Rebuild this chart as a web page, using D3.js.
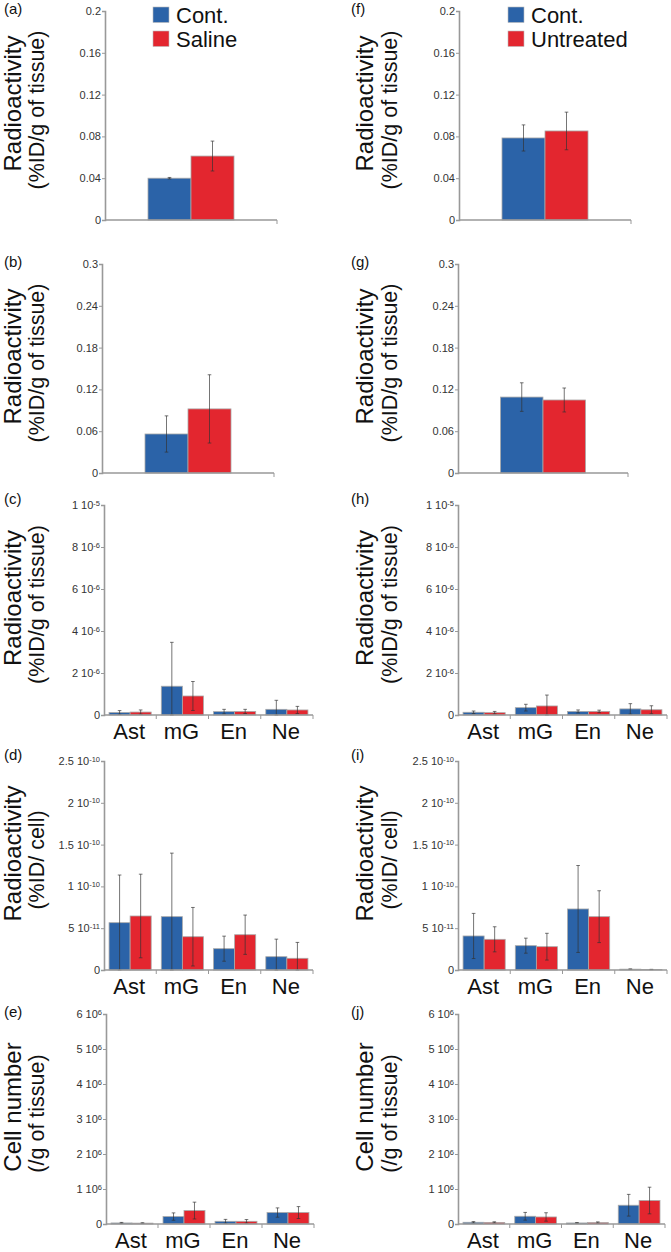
<!DOCTYPE html>
<html><head><meta charset="utf-8">
<script src="https://cdn.jsdelivr.net/npm/d3@7"></script>
<style>body{margin:0;background:#fff} text{font-family:"Liberation Sans",Arial,sans-serif}</style>
</head><body><svg id="c" width="671" height="1252"></svg>
<script>
// ---------- data ----------
const seriesLeft = ["Cont.", "Saline"];
const seriesRight = ["Cont.", "Untreated"];
const cellTypes = ["Ast", "mG", "En", "Ne"];
const singleGroup = [""];

// (a) / (f)
const aCont = [0.040], aContErr = [0.0007], aSaline = [0.0612], aSalineErr = [0.0143];
const fCont = [0.0785], fContErr = [0.0125], fUntreated = [0.0852], fUntreatedErr = [0.018];
// (b) / (g)
const bCont = [0.056], bContErr = [0.026], bSaline = [0.092], bSalineErr = [0.049];
const gCont = [0.109], gContErr = [0.0205], gUntreated = [0.1048], gUntreatedErr = [0.0172];
// (c) / (h)
const cCont = [0.12e-6, 1.37e-6, 0.16e-6, 0.27e-6], cContErr = [0.09e-6, 2.09e-6, 0.11e-6, 0.43e-6];
const cSaline = [0.14e-6, 0.905e-6, 0.17e-6, 0.24e-6], cSalineErr = [0.10e-6, 0.69e-6, 0.10e-6, 0.17e-6];
const hCont = [0.13e-6, 0.35e-6, 0.17e-6, 0.29e-6], hContErr = [0.06e-6, 0.16e-6, 0.07e-6, 0.25e-6];
const hUntreated = [0.11e-6, 0.43e-6, 0.17e-6, 0.25e-6], hUntreatedErr = [0.06e-6, 0.52e-6, 0.06e-6, 0.19e-6];
// (d) / (i)
const dCont = [5.66e-11, 6.38e-11, 2.55e-11, 1.59e-11], dContErr = [5.7e-11, 7.6e-11, 1.5e-11, 2.1e-11];
const dSaline = [6.46e-11, 3.98e-11, 4.22e-11, 1.40e-11], dSalineErr = [5.0e-11, 3.5e-11, 2.35e-11, 1.9e-11];
const iCont = [4.07e-11, 2.91e-11, 7.30e-11, 0.10e-11], iContErr = [2.7e-11, 0.9e-11, 5.2e-11, 0.03e-11];
const iUntreated = [3.67e-11, 2.79e-11, 6.38e-11, 0.06e-11], iUntreatedErr = [1.5e-11, 1.6e-11, 3.1e-11, 0.02e-11];
// (e) / (j)
const eCont = [0.030e6, 0.212e6, 0.077e6, 0.327e6], eContErr = [0.015e6, 0.105e6, 0.055e6, 0.133e6];
const eSaline = [0.025e6, 0.384e6, 0.077e6, 0.327e6], eSalineErr = [0.012e6, 0.24e6, 0.05e6, 0.17e6];
const jCont = [0.049e6, 0.221e6, 0.030e6, 0.536e6], jContErr = [0.02e6, 0.11e6, 0.012e6, 0.31e6];
const jUntreated = [0.045e6, 0.201e6, 0.040e6, 0.671e6], jUntreatedErr = [0.018e6, 0.12e6, 0.02e6, 0.38e6];

// tick values
const ticksAF = [0, 0.04, 0.08, 0.12, 0.16, 0.2];
const ticksBG = [0, 0.06, 0.12, 0.18, 0.24, 0.3];
const ticksCH = [0, 2e-6, 4e-6, 6e-6, 8e-6, 1e-5];
const ticksDI = [0, 5e-11, 1e-10, 1.5e-10, 2e-10, 2.5e-10];
const ticksEJ = [0, 1e6, 2e6, 3e6, 4e6, 5e6, 6e6];

const titleTissue = ["Radioactivity", "(%ID/g of tissue)"];
const titleCell = ["Radioactivity", "(%ID/ cell)"];
const titleNumber = ["Cell number", "(/g of tissue)"];

const colors = ["#2b63a8", "#e3262f"];

// ---------- layout ----------
const rowTop = [11, 264, 505, 761, 1014];
const rowZero = [220, 473, 715, 970, 1224];
const labelBase = [14, 267, 504, 760, 1017];
const cols = [
  {axisX: [105, 102, 104, 104, 106], axisEnd: [277, 274, 313, 313, 314], labelX: 4, t1x: 20.6, t2x: 43.6},
  {axisX: [459, 458, 458, 458, 458], axisEnd: [631, 628, 667, 667, 665], labelX: 351, t1x: 372.6, t2x: 396.6}
];

const panels = [
  {id: "(a)", col: 0, row: 0, groups: singleGroup, series: seriesLeft, vals: [aCont, aSaline], errs: [aContErr, aSalineErr], ticks: ticksAF, sci: false, title: titleTissue, legend: true},
  {id: "(b)", col: 0, row: 1, groups: singleGroup, series: seriesLeft, vals: [bCont, bSaline], errs: [bContErr, bSalineErr], ticks: ticksBG, sci: false, title: titleTissue},
  {id: "(c)", col: 0, row: 2, groups: cellTypes, series: seriesLeft, vals: [cCont, cSaline], errs: [cContErr, cSalineErr], ticks: ticksCH, sci: true, title: titleTissue},
  {id: "(d)", col: 0, row: 3, groups: cellTypes, series: seriesLeft, vals: [dCont, dSaline], errs: [dContErr, dSalineErr], ticks: ticksDI, sci: true, title: titleCell},
  {id: "(e)", col: 0, row: 4, groups: cellTypes, series: seriesLeft, vals: [eCont, eSaline], errs: [eContErr, eSalineErr], ticks: ticksEJ, sci: true, title: titleNumber},
  {id: "(f)", col: 1, row: 0, groups: singleGroup, series: seriesRight, vals: [fCont, fUntreated], errs: [fContErr, fUntreatedErr], ticks: ticksAF, sci: false, title: titleTissue, legend: true},
  {id: "(g)", col: 1, row: 1, groups: singleGroup, series: seriesRight, vals: [gCont, gUntreated], errs: [gContErr, gUntreatedErr], ticks: ticksBG, sci: false, title: titleTissue},
  {id: "(h)", col: 1, row: 2, groups: cellTypes, series: seriesRight, vals: [hCont, hUntreated], errs: [hContErr, hUntreatedErr], ticks: ticksCH, sci: true, title: titleTissue},
  {id: "(i)", col: 1, row: 3, groups: cellTypes, series: seriesRight, vals: [iCont, iUntreated], errs: [iContErr, iUntreatedErr], ticks: ticksDI, sci: true, title: titleCell},
  {id: "(j)", col: 1, row: 4, groups: cellTypes, series: seriesRight, vals: [jCont, jUntreated], errs: [jContErr, jUntreatedErr], ticks: ticksEJ, sci: true, title: titleNumber}
];

const svg = d3.select("#c");
svg.append("rect").attr("width", 671).attr("height", 1252).attr("fill", "#fff");

function sciParts(v) {
  if (v === 0) return ["0", null];
  const e = Math.floor(Math.log10(Math.abs(v)) + 1e-9);
  const m = +(v / Math.pow(10, e)).toFixed(2);
  return [m + " 10", String(e)];
}

panels.forEach(p => {
  const c = cols[p.col];
  const x0 = c.axisX[p.row], x1 = c.axisEnd[p.row];
  const yTop = rowTop[p.row], yZero = rowZero[p.row];
  const g = svg.append("g");

  const y = d3.scaleLinear().domain([0, p.ticks[p.ticks.length - 1]]).range([yZero, yTop]);
  const xg = d3.scaleBand().domain(p.groups).range([x0, x1]).padding(0);
  const inner = p.groups.length === 1 ? 1 : 0.24;
  const xs = d3.scaleBand().domain(p.series).range([0, xg.bandwidth()]).paddingInner(0).paddingOuter(inner);

  // bars
  p.series.forEach((s, si) => {
    const rows = p.groups.map((gname, gi) => ({g: gname, v: p.vals[si][gi], e: p.errs[si][gi]}));
    g.selectAll(null).data(rows).join("rect")
      .attr("x", d => xg(d.g) + xs(s))
      .attr("y", d => y(d.v))
      .attr("width", xs.bandwidth())
      .attr("height", d => yZero - y(d.v))
      .attr("fill", colors[si])
      .attr("stroke", "#a9a9a9").attr("stroke-width", 0.8);
  });
  // error bars
  p.series.forEach((s, si) => {
    const rows = p.groups.map((gname, gi) => ({g: gname, v: p.vals[si][gi], e: p.errs[si][gi]}));
    const cx = d => xg(d.g) + xs(s) + xs.bandwidth() / 2;
    const eg = g.selectAll(null).data(rows).join("g").attr("stroke", "#333").attr("stroke-width", 0.8).attr("stroke-opacity", 0.85);
    eg.append("line").attr("x1", cx).attr("x2", cx)
      .attr("y1", d => y(d.v + d.e)).attr("y2", d => y(Math.max(0, d.v - d.e)));
    eg.append("line").attr("x1", d => cx(d) - 1.8).attr("x2", d => cx(d) + 1.8)
      .attr("y1", d => y(d.v + d.e)).attr("y2", d => y(d.v + d.e));
    eg.append("line").attr("x1", d => cx(d) - 1.8).attr("x2", d => cx(d) + 1.8)
      .attr("y1", d => y(Math.max(0, d.v - d.e))).attr("y2", d => y(Math.max(0, d.v - d.e)));
  });

  // y axis
  const ya = g.append("g").attr("transform", `translate(${x0},0)`)
    .call(d3.axisLeft(y).tickValues(p.ticks).tickSize(3).tickPadding(1)
      .tickFormat(p.sci ? (d => sciParts(d)[0]) : d3.format("~g")));
  ya.select(".domain").attr("stroke", "#999").attr("stroke-width", 1.6);
  ya.selectAll(".tick line").attr("stroke", "#999");
  ya.selectAll(".tick text").attr("font-size", 11).attr("fill", "#333")
    .attr("font-family", "'Liberation Sans',Arial,sans-serif");
  if (p.sci) {
    ya.selectAll(".tick text").each(function(d) {
      const parts = sciParts(d);
      if (parts[1] !== null) {
        d3.select(this).append("tspan").attr("dy", "-0.45em").attr("font-size", 7.5).text(parts[1]);
      }
    });
  }

  // x axis
  g.append("line").attr("x1", x0).attr("x2", x1).attr("y1", yZero).attr("y2", yZero)
    .attr("stroke", "#999").attr("stroke-width", 1.6);
  g.selectAll(null).data(p.groups).join("line")
    .attr("x1", d => xg(d) + xg.bandwidth()).attr("x2", d => xg(d) + xg.bandwidth())
    .attr("y1", yZero).attr("y2", yZero + 4).attr("stroke", "#999").attr("stroke-width", 1);
  if (p.groups.length > 1) {
    g.selectAll(null).data(p.groups).join("text")
      .attr("x", d => xg(d) + xg.bandwidth() / 2 - 1).attr("y", yZero + 24)
      .attr("text-anchor", "middle").attr("font-size", 22).attr("fill", "#111").text(d => d);
  }

  // panel label
  g.append("text").attr("x", c.labelX).attr("y", labelBase[p.row]).attr("font-size", 15).attr("fill", "#111").text(p.id);

  // y title
  const mid = (yTop + yZero) / 2;
  g.append("text").attr("transform", `translate(${c.t1x},${mid - 12}) rotate(-90)`)
    .attr("text-anchor", "middle").attr("font-size", 24).attr("fill", "#111").text(p.title[0]);
  g.append("text").attr("transform", `translate(${c.t2x},${mid - 5.5}) rotate(-90)`)
    .attr("text-anchor", "middle").attr("font-size", 21.5).attr("fill", "#111").text(p.title[1]);

  // legend
  if (p.legend) {
    const lx = p.col === 0 ? 153 : 508;
    const lg = g.append("g");
    p.series.forEach((s, si) => {
      lg.append("rect").attr("x", lx).attr("y", 7 + si * 24).attr("width", 16).attr("height", 15.5)
        .attr("fill", colors[si]).attr("stroke", "#bbb").attr("stroke-width", 0.6);
      lg.append("text").attr("x", lx + 23).attr("y", 22.5 + si * 24).attr("font-size", 22).attr("fill", "#111").text(s);
    });
  }
});
</script></body></html>
